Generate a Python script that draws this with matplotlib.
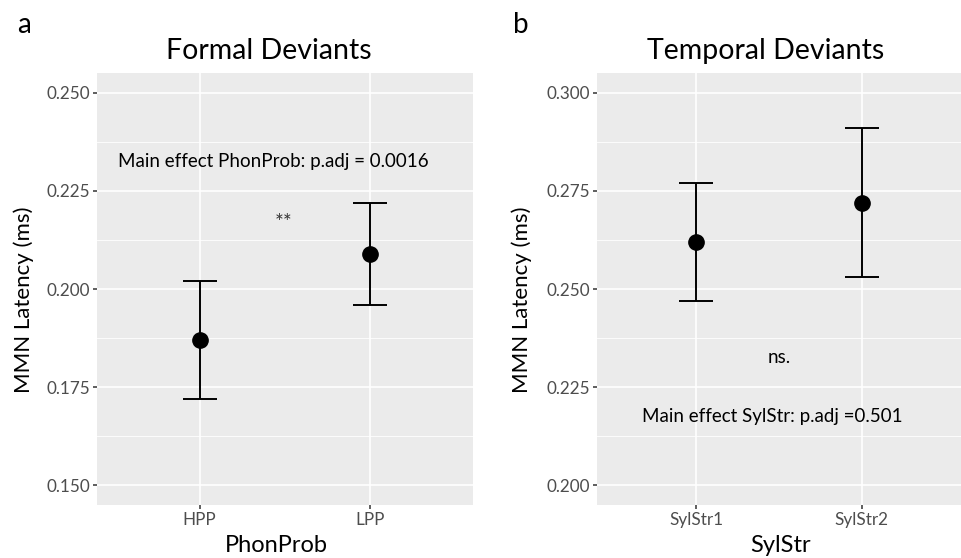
"""
Two-panel MMN latency plot (ggplot look): mean latency with error bars per
condition, formal deviants (PhonProb) and temporal deviants (SylStr).
"""
import matplotlib
matplotlib.use("Agg")
import matplotlib.pyplot as plt
import numpy as np

plt.rcParams["font.family"] = ["Lato", "DejaVu Sans"]

# panel a - formal deviants
phon_levels = ["HPP", "LPP"]
phon_mean   = [0.187, 0.209]
phon_lo     = [0.172, 0.196]
phon_hi     = [0.202, 0.222]
phon_yticks = [0.150, 0.175, 0.200, 0.225, 0.250]

# panel b - temporal deviants
syl_levels  = ["SylStr1", "SylStr2"]
syl_mean    = [0.262, 0.272]
syl_lo      = [0.247, 0.253]
syl_hi      = [0.277, 0.291]
syl_yticks  = [0.200, 0.225, 0.250, 0.275, 0.300]

W, H = 961, 558
BG = "#EBEBEB"


def px_axes(fig, x0, y0, x1, y1):
    """axes from pixel box (top-left origin)"""
    return fig.add_axes([x0 / W, (H - y1) / H, (x1 - x0) / W, (y1 - y0) / H])


def panel(ax, levels, mean, lo, hi, yticks):
    ax.set_facecolor(BG)
    for s in ax.spines.values():
        s.set_visible(False)
    x = np.arange(1, len(levels) + 1)
    step = yticks[1] - yticks[0]
    ylo, yhi = yticks[0] - step * 0.204, yticks[-1] + step * 0.204
    # minor grid halfway between major ticks
    for m in np.array(yticks[:-1]) + step / 2:
        ax.axhline(m, color="white", lw=0.6, zorder=0)
    for t in yticks:
        ax.axhline(t, color="white", lw=1.2, zorder=0)
    for xi in x:
        ax.axvline(xi, color="white", lw=1.2, zorder=0)
    mean = np.array(mean)
    err = [mean - np.array(lo), np.array(hi) - mean]
    ax.errorbar(x, mean, yerr=err, fmt="none", ecolor="black", elinewidth=1.4,
                capsize=12.5, capthick=1.4, zorder=2)
    ax.plot(x, mean, "o", color="black", ms=11, zorder=3)
    ax.set_xlim(0.4, 2.6)
    ax.set_ylim(ylo, yhi)
    ax.set_xticks(x)
    ax.set_xticklabels(levels)
    ax.set_yticks(yticks)
    ax.set_yticklabels([f"{t:.3f}" for t in yticks])
    ax.tick_params(length=3, width=1.1, color="#333333", labelcolor="#4D4D4D",
                   labelsize=12.3, pad=2)


fig = plt.figure(figsize=(W / 100, H / 100), dpi=100)

ax1 = px_axes(fig, 97, 73, 473, 505)
panel(ax1, phon_levels, phon_mean, phon_lo, phon_hi, phon_yticks)
ax1.text(1.43, 0.2326, "Main effect PhonProb: p.adj = 0.0016", ha="center",
         va="center", fontsize=13.5)
ax1.text(1.49, 0.2168, "**", ha="center", va="center", fontsize=15,
         color="#333333")

ax2 = px_axes(fig, 597, 73, 961, 505)
panel(ax2, syl_levels, syl_mean, syl_lo, syl_hi, syl_yticks)
ax2.text(1.50, 0.2326, "ns.", ha="center", va="center", fontsize=13.5)
ax2.text(1.46, 0.2174, "Main effect SylStr: p.adj =0.501", ha="center",
         va="center", fontsize=13.5)

# titles, axis labels, panel letters in pixel positions
def ftext(x, y, s, **kw):
    fig.text(x / W, 1 - y / H, s, **kw)

ftext(269, 51, "Formal Deviants", ha="center", va="center", fontsize=20.5)
ftext(766, 51, "Temporal Deviants", ha="center", va="center", fontsize=20.5)
ftext(24, 25, "a", ha="center", va="center", fontsize=20)
ftext(521, 25, "b", ha="center", va="center", fontsize=20)
ftext(276, 545, "PhonProb", ha="center", va="center", fontsize=17)
ftext(781, 545, "SylStr", ha="center", va="center", fontsize=17)
ftext(24, 300, "MMN Latency (ms)", ha="center", va="center", fontsize=16,
      rotation=90)
ftext(522, 300, "MMN Latency (ms)", ha="center", va="center", fontsize=16,
      rotation=90)

fig.savefig("out.png", dpi=100)
